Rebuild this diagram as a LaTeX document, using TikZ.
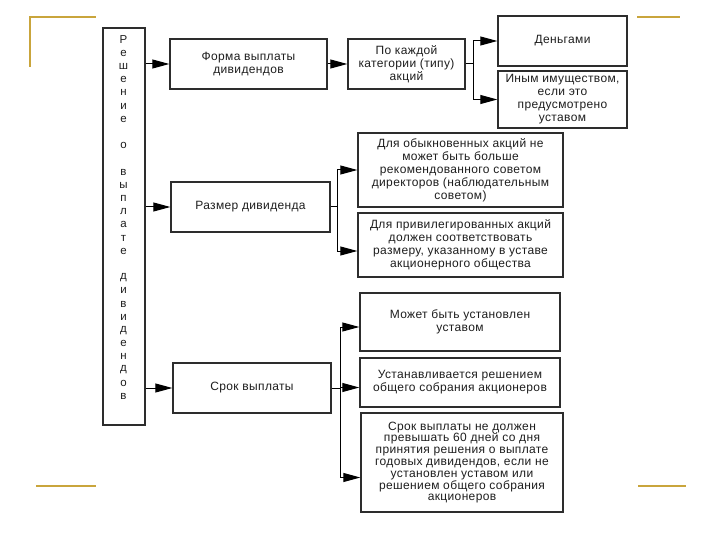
\documentclass[tikz,border=0pt]{standalone}
\usepackage{fontspec}
\setmainfont{Liberation Sans}
\newfontfamily\bxfont[LetterSpace=3]{Liberation Sans}
\usetikzlibrary{arrows.meta}
\definecolor{gold}{RGB}{201,165,60}
\definecolor{ink}{RGB}{30,30,30}
\definecolor{edge}{RGB}{45,45,45}
\tikzset{
  x=1pt, y=-1pt,
  box/.style={draw=edge, line width=1.4pt, fill=white, inner sep=0pt, align=center,
    text=ink, font=\bxfont\fontsize{12}{13}\selectfont},
  tight/.style={font=\bxfont\fontsize{12}{11.8}\selectfont},
  arr/.style={draw=black, line width=1pt, -{Triangle[length=17pt,width=9pt]}},
  conn/.style={draw=black, line width=1pt},
  goldline/.style={draw=gold, line width=2.5pt},
  letter/.style={inner sep=0pt, text=ink, font=\bxfont\fontsize{11.5}{12}\selectfont}
}
\begin{document}
\begin{tikzpicture}
\useasboundingbox (0,0) rectangle (720,540);
% decorative gold lines
\draw[goldline] (30,67) -- (30,17) -- (96,17);
\draw[goldline] (637,17) -- (680,17);
\draw[goldline] (36,486) -- (96,486);
\draw[goldline] (638,486) -- (686,486);

% main vertical box
\node[box, minimum width=42pt, minimum height=397pt] (main) at (124,226.5) {};
\foreach \ch [count=\k from 0] in {Р,е,ш,е,н,и,е,{},о,{},в,ы,п,л,а,т,е,{},д,и,в,и,д,е,н,д,о,в}
  \node[letter] (L\k) at (123.5,{40+13.2*\k}) {\ch};

% boxes
\node[box, minimum width=157pt, minimum height=50pt] (t1) at (248.5,64) {Форма выплаты\\дивидендов};
\node[box, minimum width=117pt, minimum height=50pt] (t2) at (406.5,64) {По каждой\\категории (типу)\\акций};
\node[box, minimum width=129pt, minimum height=50pt] (t3) at (562.5,41) {Деньгами};
\node[box, minimum width=129pt, minimum height=57pt] (t4) at (562.5,99.5) {Иным имуществом,\\если это\\предусмотрено\\уставом};
\node[box, minimum width=159pt, minimum height=50pt] (t5) at (250.5,207) {Размер дивиденда};
\node[box, minimum width=205pt, minimum height=74pt] (t6) at (460.5,170) {Для обыкновенных акций не\\может быть больше\\рекомендованного советом\\директоров (наблюдательным\\советом)};
\node[box, minimum width=205pt, minimum height=64pt] (t7) at (460.5,245) {Для привилегированных акций\\должен соответствовать\\размеру, указанному в уставе\\акционерного общества};
\node[box, minimum width=158pt, minimum height=50pt] (t11) at (252,388) {Срок выплаты};
\node[box, minimum width=200pt, minimum height=58pt] (t8) at (460,322) {Может быть установлен\\уставом};
\node[box, minimum width=200pt, minimum height=49pt] (t9) at (460,382.5) {Устанавливается решением\\общего собрания акционеров};
\node[box, tight, minimum width=202pt, minimum height=99pt] (t10) at (462,462.5) {Срок выплаты не должен\\превышать 60 дней со дня\\принятия решения о выплате\\годовых дивидендов, если не\\установлен уставом или\\решением общего собрания\\акционеров};

% connectors from main box
\draw[arr] (main.east |- t1.west) -- (t1.west);
\draw[arr] (main.east |- t5.west) -- (t5.west);
\draw[arr] (main.east |- t11.west) -- (t11.west);
\draw[arr] (t1.east) -- (t2.west);

% branch 1
\coordinate (b1) at (473,64);
\draw[conn] (t2.east) -- (b1);
\draw[arr] (b1) |- (t3.west);
\draw[arr] (b1) |- (t4.west);

% branch 2
\coordinate (b2) at (337,207);
\draw[conn] (t5.east) -- (b2);
\draw[arr] (b2) |- (t6.west);
\draw[arr] (b2) |- ([yshift=-6pt]t7.west);

% branch 3
\coordinate (b3) at (340,388);
\draw[conn] (t11.east) -- (b3);
\draw[arr] (b3) |- ([yshift=-5pt]t8.west);
\draw[arr] (b3) |- ([yshift=-5pt]t9.west);
\draw[arr] (b3) |- ([yshift=-15pt]t10.west);
\end{tikzpicture}
\end{document}
